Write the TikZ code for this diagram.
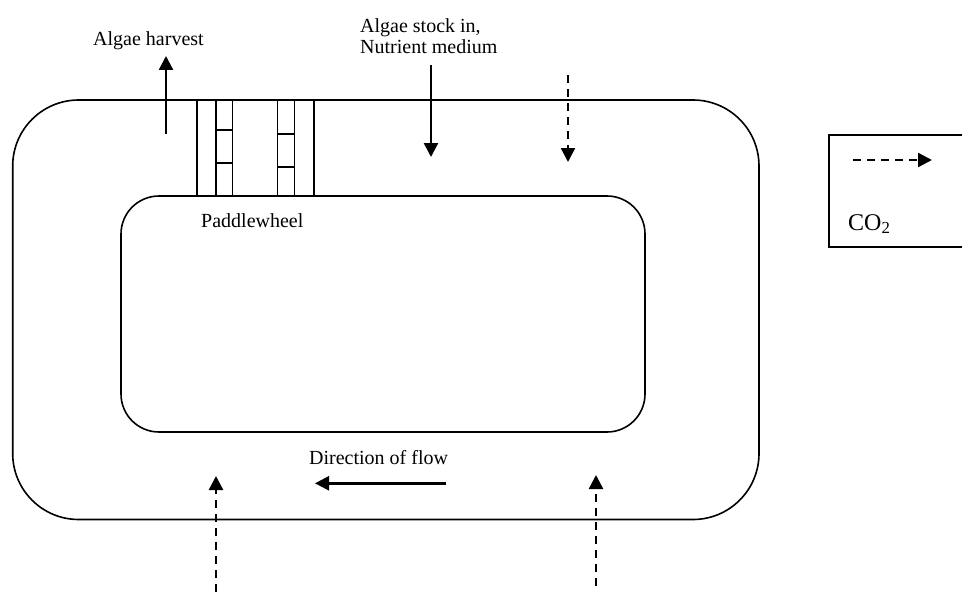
\documentclass[tikz,border=0pt]{standalone}
\usepackage{fontspec}
\setmainfont{Liberation Serif}
\usetikzlibrary{arrows.meta}
\begin{document}
\begin{tikzpicture}[x=1pt,y=-1pt,
  outline/.style={line width=1.6pt},
  flowarrow/.style={line width=2.4pt,-{Triangle[length=14pt,width=14pt]}},
  co2arrow/.style={line width=2.4pt,dash pattern=on 8pt off 6pt,-{Triangle[length=14pt,width=14pt]}},
  lbl/.style={inner sep=0pt,anchor=base west,font=\fontsize{20}{24}\selectfont}]
\useasboundingbox (0,0) rectangle (962,594);
% pond channels
\draw[outline,rounded corners=66pt] (12.7,100) rectangle (759,519.5);
\draw[outline,rounded corners=38pt] (121,196) rectangle (645,432);
% paddlewheels
\draw[outline] (196.7,100) -- (196.7,196) (216,100) -- (216,196) (232.3,100) -- (232.3,196)
  (216,130) -- (232.3,130) (216,162.7) -- (232.3,162.7);
\draw[outline] (277.3,100) -- (277.3,196) (294.3,100) -- (294.3,196) (314,100) -- (314,196)
  (277.3,134) -- (294.3,134) (277.3,166.7) -- (294.3,166.7);
% legend box (cut at the right edge)
\draw[outline] (962,135) -- (829,135) -- (829,247) -- (962,247);
% coordinates
\coordinate (harvS) at (166,134);
\coordinate (harvE) at (166,56);
\coordinate (stockS) at (431,65);
\coordinate (stockE) at (431,157);
\coordinate (co2tS) at (568,75);
\coordinate (co2tE) at (568,162);
\coordinate (co2blS) at (216,592);
\coordinate (co2blE) at (216,476);
\coordinate (co2brS) at (596,586);
\coordinate (co2brE) at (596,475);
\coordinate (flowS) at (446,483.3);
\coordinate (flowE) at (315,483.3);
\coordinate (legS) at (853,160);
\coordinate (legE) at (932,160);
% arrows
\draw[flowarrow] (harvS) -- (harvE);
\draw[flowarrow] (stockS) -- (stockE);
\draw[flowarrow] (flowS) -- (flowE);
\draw[co2arrow] (co2tS) -- (co2tE);
\draw[co2arrow] (co2blS) -- (co2blE);
\draw[co2arrow] (co2brS) -- (co2brE);
\draw[co2arrow] (legS) -- (legE);
% labels
\node[lbl] (harvest) at (93,45.7) {Algae harvest};
\node[lbl] (stock1) at (360,33) {Algae stock in,};
\node[lbl] (stock2) at (360,54) {Nutrient medium};
\node[lbl] (paddle) at (201,227.7) {Paddlewheel};
\node[lbl] (flow) at (309,464) {Direction of flow};
\node[lbl,font=\fontsize{24}{28}\selectfont] (co2) at (848,230) {CO\textsubscript{2}};
\end{tikzpicture}
\end{document}
